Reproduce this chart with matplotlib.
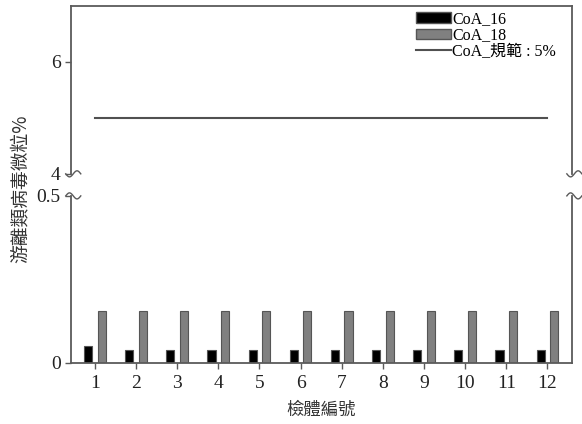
#!/usr/bin/env python3
"""Free viroid particle percentage per specimen, with a broken y axis."""

import numpy as np
import matplotlib.pyplot as plt
from matplotlib.patches import Patch
from matplotlib.lines import Line2D

plt.rcParams["font.family"] = ["Liberation Serif", "Noto Sans CJK TC"]

specimens = [1, 2, 3, 4, 5, 6, 7, 8, 9, 10, 11, 12]
coa_16 = [0.05, 0.04, 0.04, 0.04, 0.04, 0.04, 0.04, 0.04, 0.04, 0.04, 0.04, 0.04]
coa_18 = [0.155, 0.155, 0.155, 0.155, 0.155, 0.155, 0.155, 0.155, 0.155, 0.155, 0.155, 0.155]
spec_limit = 5.0
series_names = ["CoA_16", "CoA_18", "CoA_規範 : 5%"]

SPINE = "#5a5a5a"
CJK = ["Noto Sans CJK TC", "Liberation Serif"]

fig = plt.figure(figsize=(5.82, 4.24), dpi=100)
ax_top = fig.add_axes([0.122, 0.590, 0.861, 0.396])
ax_bot = fig.add_axes([0.122, 0.144, 0.861, 0.394])

x = np.array(specimens, dtype=float)
for ax in (ax_top, ax_bot):
    ax.bar(x - 0.165, coa_16, width=0.2, color="black", edgecolor="#555555", linewidth=0.8)
    ax.bar(x + 0.165, coa_18, width=0.2, color="#808080", edgecolor="#555555", linewidth=0.8)
    ax.set_xlim(0.42, 12.6)
    for side in ("left", "right", "top", "bottom"):
        ax.spines[side].set_color(SPINE)
        ax.spines[side].set_linewidth(1.3)
    ax.tick_params(axis="both", colors=SPINE, labelcolor="#222222", labelsize=14,
                   length=4, width=1.0, direction="out")

ax_top.plot([specimens[0], specimens[-1]], [spec_limit, spec_limit], color="#505050", lw=1.5)

ax_top.set_ylim(4, 7)
ax_top.set_yticks([4, 6])
ax_top.set_xticks([])
ax_top.spines["bottom"].set_visible(False)

ax_bot.set_ylim(0, 0.5)
ax_bot.set_yticks([0, 0.5])
ax_bot.set_yticklabels(["0", "0.5"])
ax_bot.set_xticks(specimens)
ax_bot.spines["top"].set_visible(False)
ax_bot.tick_params(axis="x", length=4, pad=5)

# squiggly break marks on both spines
t = np.linspace(0, 1, 40)
bx = (t - 0.35) * 0.030
by = 0.018 * np.sin(2 * np.pi * t)
for ax, y0, sign in ((ax_top, 0.0, -1), (ax_bot, 1.0, 1)):
    for x0 in (0.0, 1.0):
        ax.plot(x0 + bx, y0 + sign * by, transform=ax.transAxes,
                color=SPINE, lw=1.0, clip_on=False)

ax_bot.set_xlabel("檢體編號", fontsize=12.5, family=CJK, color="#333333", labelpad=6)
fig.text(0.034, 0.556, "游離類病毒微粒%", rotation=90, fontsize=13.5,
         family=CJK, color="#333333", ha="center", va="center")

handles = [
    Patch(facecolor="black", edgecolor="#555555"),
    Patch(facecolor="#808080", edgecolor="#555555"),
    Line2D([0], [0], color="#505050", lw=1.5),
]
leg = ax_top.legend(handles, series_names, loc="upper right", bbox_to_anchor=(0.99, 1.035),
                    frameon=False, fontsize=11.5, handlelength=2.2, handleheight=0.65,
                    handletextpad=0.05, labelspacing=0.02, borderaxespad=0.3)
for txt in leg.get_texts():
    txt.set_family(["Liberation Serif", "Noto Sans CJK TC"])

fig.savefig("out.png", dpi=100)
